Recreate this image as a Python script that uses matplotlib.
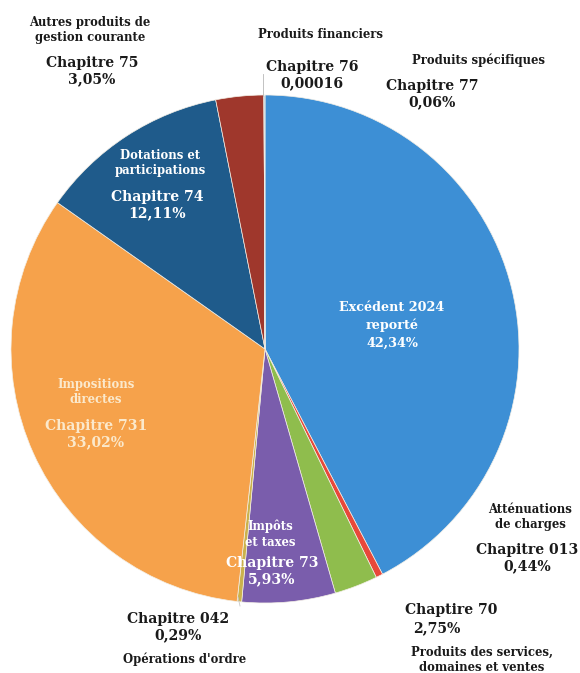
import matplotlib.pyplot as plt

# parts of the budget (recettes), clockwise from 12 o'clock
chapitres = ['002', '013', '70', '73', '042', '731', '74', '75', '76', '77']
valeurs = [42.34, 0.44, 2.75, 5.93, 0.29, 33.02, 12.11, 3.05, 0.00016, 0.06]
couleurs = ['#3d8fd5', '#e8483a', '#8fbd4d', '#7a5dac', '#cbb24c',
            '#f6a24b', '#1f5b8b', '#9f372c', '#1b2f6a', '#4b9fd2']

W, H = 580, 673
fig = plt.figure(figsize=(W / 100, H / 100), dpi=100)
ax = fig.add_axes([0, 0, 1, 1])

ax.pie(valeurs, colors=couleurs, startangle=90, counterclock=False,
       center=(265, H - 349), radius=254, frame=True,
       wedgeprops=dict(edgecolor='#f3efe6', linewidth=0.5))
ax.set_xlim(0, W)
ax.set_ylim(0, H)
ax.set_aspect('equal')
ax.axis('off')

FONT = 'DejaVu Serif'
def txt(x, y, s, size=10, color='#1a1a1a', weight='bold', ls=1.25):
    ax.text(x, H - y, s, ha='center', va='center', fontsize=size, color=color,
            fontweight=weight, family=FONT, linespacing=ls)

small = 8.4
big = 10.1

# labels outside
txt(90, 30, 'Autres produits de\ngestion courante', small)
txt(92, 71, 'Chapitre 75\n3,05%', big)
txt(320, 35, 'Produits financiers', small)
txt(312, 75, 'Chapitre 76\n0,00016', big)
txt(478, 60, 'Produits spécifiques', small)
txt(432, 94, 'Chapitre 77\n0,06%', big)
txt(530, 517, 'Atténuations\nde charges', small)
txt(527, 558, 'Chapitre 013\n0,44%', big)
txt(451, 610, 'Chaptire 70', big)
txt(437, 628, '2,75%', big)
txt(482, 660, 'Produits des services,\ndomaines et ventes', small)
txt(178, 627, 'Chapitre 042\n0,29%', big)
txt(185, 659, "Opérations d'ordre", small)

# labels inside the slices
txt(160, 163, 'Dotations et\nparticipations', small, color='white')
txt(157, 205, 'Chapitre 74\n12,11%', big, color='white')
txt(392, 325, 'Excédent 2024\nreporté\n42,34%', 9.2, color='white', ls=1.45)
txt(96, 392, 'Impositions\ndirectes', small, color='#fbe9cc')
txt(96, 434, 'Chapitre 731\n33,02%', big, color='#fbe9cc')
txt(270, 534, 'Impôts\net taxes', small, color='white')
txt(272, 571, 'Chapitre 73\n5,93%', big, color='white')

# leader lines
ax.plot([263, 263], [H - 74, H - 96], color='#b8b8b8', lw=0.6)
ax.plot([238, 240], [H - 597, H - 606], color='#c8c8c8', lw=0.6)

fig.savefig('out.png', dpi=100)
